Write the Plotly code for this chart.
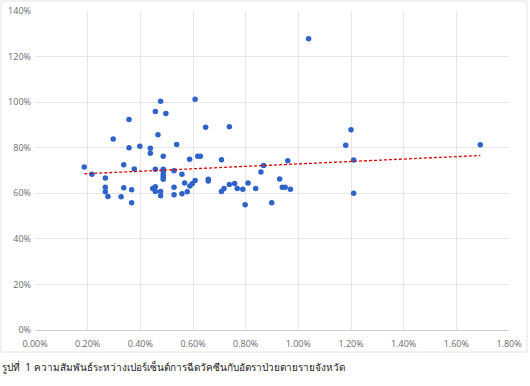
import numpy as np
import plotly.graph_objects as go

# vaccination percentage (%) and case-fatality rate (%) per province
vacc_pct = [0.187, 0.216, 0.267, 0.297, 0.337, 0.357, 0.357, 0.377, 0.398, 0.438,
            0.438, 0.457, 0.457, 0.467, 0.477, 0.487, 0.497, 0.528, 0.538, 0.558,
            0.587, 0.608, 0.618, 0.628, 0.648, 0.708, 0.738, 0.858, 0.868, 1.039,
            1.200, 1.180, 1.210, 1.691, 0.960, 0.929, 0.267, 0.267, 0.277, 0.327,
            0.337, 0.367, 0.367, 0.447, 0.452, 0.457, 0.457, 0.477, 0.477, 0.487,
            0.487, 0.487, 0.487, 0.487, 0.528, 0.528, 0.558, 0.568, 0.578, 0.588,
            0.597, 0.608, 0.658, 0.658, 0.708, 0.718, 0.738, 0.758, 0.768, 0.789,
            0.798, 0.809, 0.838, 0.939, 0.950, 0.970, 0.899, 1.210]
cfr_pct = [71.5, 68.4, 66.7, 83.8, 72.5, 92.4, 80.0, 70.7, 80.6, 79.8,
           77.6, 95.9, 70.5, 85.7, 100.4, 76.2, 95.0, 69.9, 81.4, 68.4,
           74.9, 101.3, 76.3, 76.3, 89.0, 74.7, 89.2, 69.3, 72.2, 127.8,
           87.9, 81.1, 74.6, 81.3, 74.3, 66.3, 62.7, 60.7, 58.6, 58.5,
           62.4, 61.5, 55.8, 62.1, 62.1, 62.9, 60.8, 60.8, 58.9, 70.6,
           69.4, 68.1, 67.2, 66.2, 62.6, 59.4, 59.8, 64.5, 60.7, 63.2,
           64.2, 65.6, 66.2, 65.4, 60.8, 62.1, 63.9, 64.3, 62.1, 61.8,
           55.0, 64.5, 62.1, 62.6, 62.7, 61.8, 55.8, 60.0]

x_ticks = [0.0, 0.2, 0.4, 0.6, 0.8, 1.0, 1.2, 1.4, 1.6, 1.8]
y_ticks = [0, 20, 40, 60, 80, 100, 120, 140]
caption = "รูปที่  1 ความสัมพันธ์ระหว่างเปอร์เซ็นต์การฉีดวัคซีนกับอัตราป่วยตายรายจังหวัด"

# linear trend line
slope, intercept = np.polyfit(vacc_pct, cfr_pct, 1)
tx = [min(vacc_pct), max(vacc_pct)]
ty = [slope * v + intercept for v in tx]

fig = go.Figure()
fig.add_trace(go.Scatter(
    x=vacc_pct, y=cfr_pct, mode="markers",
    marker=dict(color="#2E63C9", size=5.5, line=dict(width=0)),
    showlegend=False, hoverinfo="x+y"))
fig.add_trace(go.Scatter(
    x=tx, y=ty, mode="lines",
    line=dict(color="#E00000", width=1.3, dash="3px,2px"),
    showlegend=False))

tick_font = dict(family="Open Sans, Noto Sans, sans-serif", size=9, color="#6b6b6b")
fig.update_xaxes(range=[0, 1.8], tickvals=x_ticks,
                 ticktext=[f"{v:.2f}%" for v in x_ticks],
                 showgrid=True, gridcolor="#e6e6e6", gridwidth=1,
                 zeroline=False, showline=True, linecolor="#d0d0d0", linewidth=1,
                 ticks="", tickfont=tick_font, automargin=False,
                 ticklabelstandoff=5, ticklabeloverflow="allow")
fig.update_yaxes(range=[0, 140], tickvals=y_ticks,
                 ticktext=[f"{v}%" for v in y_ticks],
                 showgrid=True, gridcolor="#e6e6e6", gridwidth=1,
                 zeroline=False, showline=False, ticks="", tickfont=tick_font,
                 automargin=False, ticklabelstandoff=3, ticklabeloverflow="allow")

# outer chart border
fig.add_shape(type="rect", xref="paper", yref="paper",
              x0=(1 - 35) / 474, x1=(527 - 35) / 474,
              y0=(330 - 352) / 319, y1=(330 - 1) / 319,
              line=dict(color="#e3e3e3", width=1), layer="below")

fig.add_annotation(text=caption, xref="paper", yref="paper",
                   x=(0 - 35) / 474, y=(330 - 367) / 319,
                   xanchor="left", yanchor="middle", showarrow=False,
                   font=dict(family="Noto Sans, DejaVu Sans, sans-serif", size=10, color="#222222"))

fig.update_layout(width=530, height=386,
                  margin=dict(l=35, r=21, t=11, b=56),
                  plot_bgcolor="white", paper_bgcolor="white")

fig.write_html("out.html", config={"responsive": False, "displayModeBar": False},
               post_script="document.body.style.margin='0';document.body.style.overflow='hidden';")
